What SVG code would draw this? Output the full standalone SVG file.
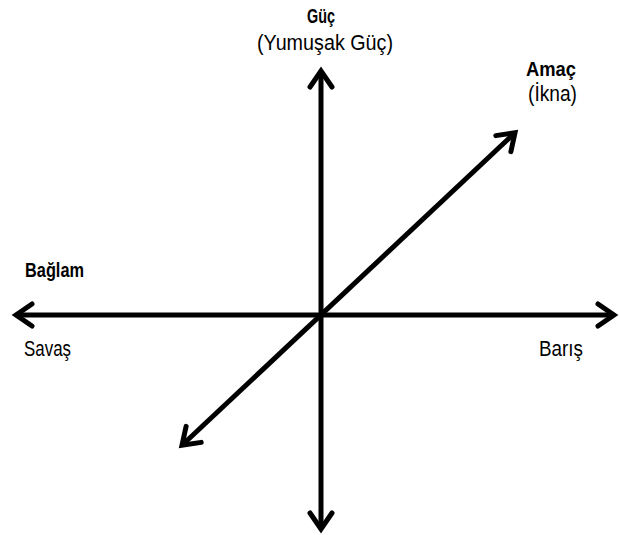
<svg xmlns="http://www.w3.org/2000/svg" width="620" height="535" viewBox="0 0 620 535">
  <style>
    .t { font-family: "Liberation Sans", Arial, sans-serif; fill: #000; }
    .b { font-weight: bold; font-size: 20px; }
    .r { font-size: 22.5px; }
    .ax { stroke: #000; stroke-width: 5; fill: none; marker-start: url(#head); marker-end: url(#head); }
  </style>
  <defs>
    <marker id="head" markerUnits="userSpaceOnUse" viewBox="-24 -18 30 36" markerWidth="30" markerHeight="36" refX="0" refY="0" orient="auto-start-reverse">
      <path d="M-16,-11 L0,0 L-16,11" fill="none" stroke="#000" stroke-width="5" stroke-linecap="round" stroke-linejoin="miter"/>
    </marker>
  </defs>
  <rect width="620" height="535" fill="#fff"/>
  <g id="connectors">
    <line class="ax" x1="321" y1="529" x2="321" y2="71"/>
    <line class="ax" x1="16" y1="315" x2="614" y2="315"/>
    <line class="ax" x1="182" y1="445.3" x2="515" y2="132.7"/>
  </g>
  <g id="guc">
    <text class="t b" x="307" y="23" textLength="28" lengthAdjust="spacingAndGlyphs">Güç</text>
    <text class="t r" x="257" y="50" textLength="136" lengthAdjust="spacingAndGlyphs">(Yumuşak Güç)</text>
  </g>
  <g id="amac">
    <text class="t b" x="526" y="76" textLength="50" lengthAdjust="spacingAndGlyphs">Amaç</text>
    <text class="t r" x="528" y="101" textLength="49" lengthAdjust="spacingAndGlyphs">(İkna)</text>
  </g>
  <g id="baglam">
    <text class="t b" x="25" y="277" textLength="59" lengthAdjust="spacingAndGlyphs">Bağlam</text>
  </g>
  <g id="savas">
    <text class="t r" x="24" y="356" textLength="47" lengthAdjust="spacingAndGlyphs">Savaş</text>
  </g>
  <g id="baris">
    <text class="t r" x="539" y="356" textLength="44" lengthAdjust="spacingAndGlyphs">Barış</text>
  </g>
</svg>
